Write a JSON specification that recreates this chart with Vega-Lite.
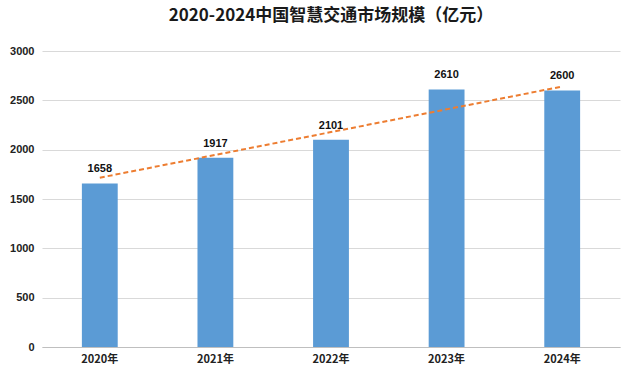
{
  "$schema": "https://vega.github.io/schema/vega-lite/v6.json",
  "width": 578,
  "height": 296,
  "autosize": "none",
  "padding": {"left": 42, "top": 51, "right": 16, "bottom": 33},
  "background": "white",
  "title": {
    "text": "2020-2024中国智慧交通市场规模（亿元）",
    "font": "Noto Sans CJK SC",
    "fontSize": 17,
    "fontWeight": "bold",
    "color": "#1a1a1a",
    "anchor": "middle",
    "offset": 20
  },
  "data": {
    "values": [
      {"year": "2020年", "value": 1658, "trend": 1716},
      {"year": "2021年", "value": 1917, "trend": 1947},
      {"year": "2022年", "value": 2101, "trend": 2178},
      {"year": "2023年", "value": 2610, "trend": 2409},
      {"year": "2024年", "value": 2600, "trend": 2640}
    ]
  },
  "encoding": {
    "x": {
      "field": "year",
      "type": "nominal",
      "sort": null,
      "scale": {"paddingInner": 0.69, "paddingOuter": 0.345},
      "axis": {
        "title": null,
        "labelAngle": 0,
        "labelFont": "Noto Sans CJK SC",
        "labelFontSize": 11,
        "labelFontWeight": "bold",
        "labelColor": "#222",
        "labelPadding": 6,
        "ticks": false,
        "domainColor": "#bfbfbf",
        "grid": false
      }
    }
  },
  "layer": [
    {
      "mark": {"type": "bar", "color": "#5B9BD5"},
      "encoding": {
        "y": {
          "field": "value",
          "type": "quantitative",
          "scale": {"domain": [0, 3000]},
          "axis": {
            "title": null,
            "values": [0, 500, 1000, 1500, 2000, 2500, 3000],
            "labelFont": "Liberation Sans",
            "labelFontSize": 11,
            "labelFontWeight": "bold",
            "labelColor": "#222",
            "labelPadding": 8,
            "ticks": false,
            "domain": false,
            "gridColor": "#d9d9d9",
            "format": "d"
          }
        }
      }
    },
    {
      "mark": {"type": "line", "color": "#ED7D31", "strokeDash": [5, 3], "strokeWidth": 2},
      "encoding": {
        "y": {"field": "trend", "type": "quantitative"}
      }
    },
    {
      "mark": {"type": "text", "baseline": "bottom", "dy": -9, "font": "Liberation Sans", "fontSize": 11, "fontWeight": "bold", "color": "#111"},
      "encoding": {
        "y": {"field": "value", "type": "quantitative"},
        "text": {"field": "value", "type": "quantitative", "format": "d"}
      }
    }
  ],
  "config": {"view": {"stroke": null}}
}
